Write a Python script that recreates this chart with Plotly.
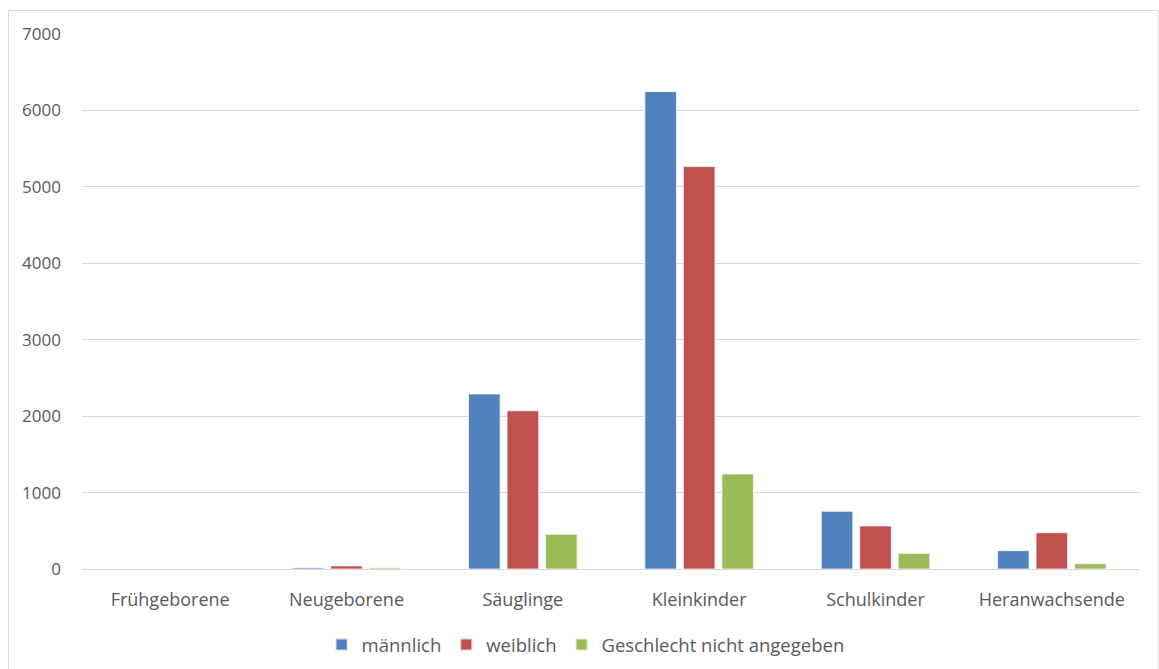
import plotly.graph_objects as go

# Altersgruppen und Fallzahlen nach Geschlecht
kategorien = ["Frühgeborene", "Neugeborene", "Säuglinge", "Kleinkinder", "Schulkinder", "Heranwachsende"]
maennlich = [0, 15, 2290, 6245, 755, 240]
weiblich = [0, 40, 2070, 5265, 563, 475]
nicht_angegeben = [0, 15, 455, 1243, 205, 70]
y_ticks = [0, 1000, 2000, 3000, 4000, 5000, 6000, 7000]

serien = [
    ("männlich", maennlich, "#4F81BD"),
    ("weiblich", weiblich, "#C0504D"),
    ("Geschlecht nicht angegeben", nicht_angegeben, "#9BBB59"),
]

schrift = "Open Sans, Lato, sans-serif"
grau = "#595959"

fig = go.Figure()
for name, werte, farbe in serien:
    fig.add_trace(go.Bar(
        x=kategorien, y=werte, name=name,
        marker=dict(color=farbe, line=dict(color="rgba(255,255,255,0.7)", width=1)),
    ))

fig.update_layout(
    width=1159, height=669,
    margin=dict(l=82, r=19, t=34, b=100, autoexpand=False),
    paper_bgcolor="white", plot_bgcolor="white",
    barmode="group", bargap=0.345, bargroupgap=0.18,
    font=dict(family=schrift, size=18, color=grau),
    showlegend=True,
    legend=dict(orientation="h", x=0.476, xanchor="center", y=-0.142, yanchor="middle",
                font=dict(family=schrift, size=18.5, color=grau), itemsizing="constant",
                traceorder="normal"),
    xaxis=dict(showgrid=False, showline=False, ticks="", automargin=False,
               ticklabelstandoff=18, tickfont=dict(size=18, color=grau)),
    yaxis=dict(range=[0, 7000], tickvals=y_ticks, showgrid=True, gridcolor="#D9D9D9",
               gridwidth=1, zeroline=True, zerolinecolor="#D9D9D9", zerolinewidth=1,
               showline=False, ticks="", ticklabelstandoff=20, automargin=False,
               tickfont=dict(size=17, color=grau)),
    shapes=[dict(type="rect", xref="paper", yref="paper",
                 x0=(8.5 - 82) / 1058, x1=(1158.5 - 82) / 1058,
                 y0=(569 - 700) / 535, y1=1 + (34 - 10.5) / 535,
                 line=dict(color="#D9D9D9", width=1), fillcolor="rgba(0,0,0,0)", layer="below")],
)

fig.write_html("out.html")
